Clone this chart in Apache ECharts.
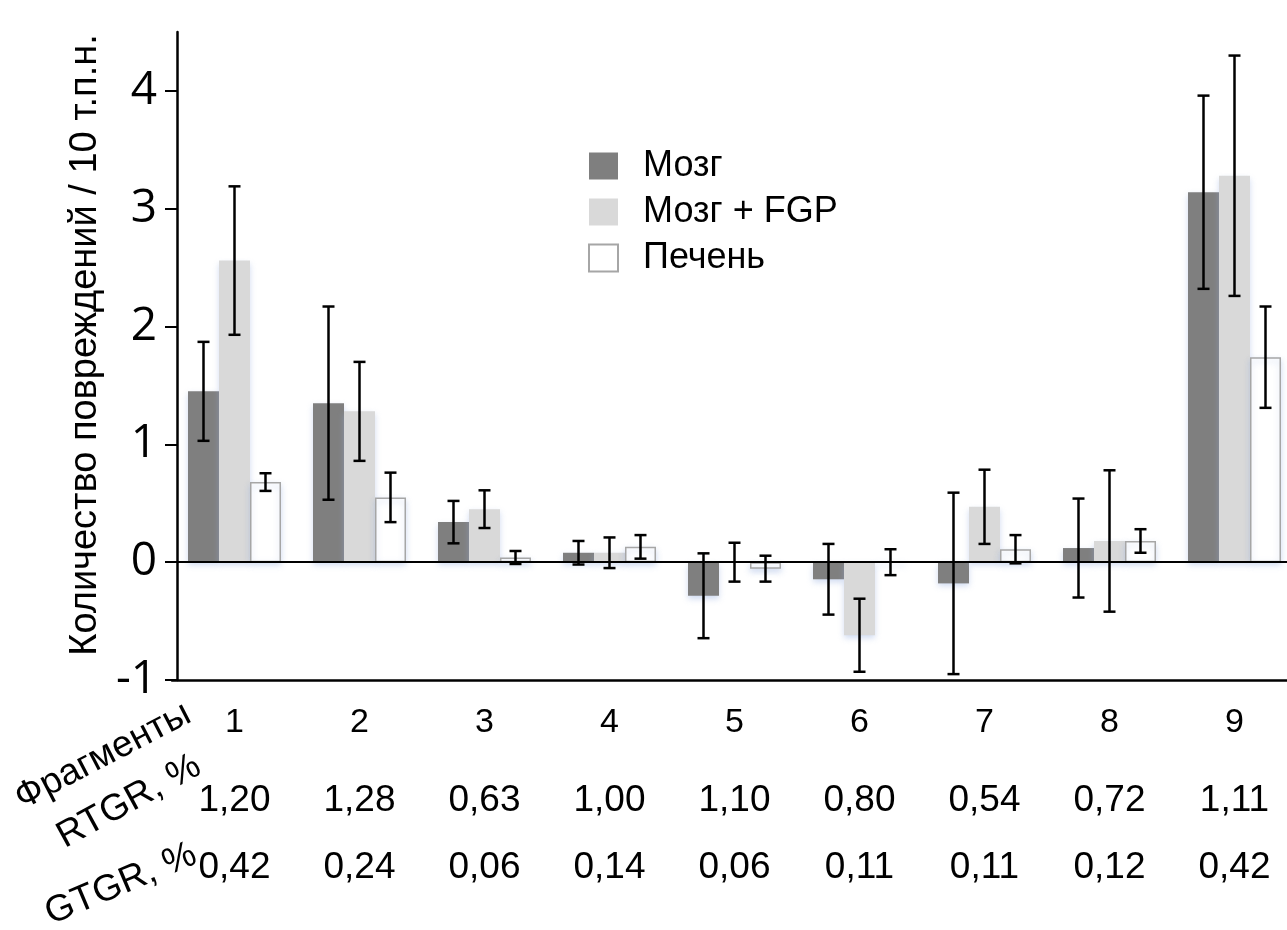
<!DOCTYPE html>
<html>
<head>
<meta charset="utf-8">
<script src="https://cdn.jsdelivr.net/npm/echarts@6/dist/echarts.min.js"></script>
<style>
  html, body { margin: 0; padding: 0; background: #fff; }
  #chart { width: 1287px; height: 930px; }
</style>
</head>
<body>
<div id="chart"></div>
<script>
// fragments and the two percentage rows under them
const categories = ['1', '2', '3', '4', '5', '6', '7', '8', '9'];
const rtgr = ['1,20', '1,28', '0,63', '1,00', '1,10', '0,80', '0,54', '0,72', '1,11'];
const gtgr = ['0,42', '0,24', '0,06', '0,14', '0,06', '0,11', '0,11', '0,12', '0,42'];
const yTicks = [-1, 0, 1, 2, 3, 4];

// lesions per 10 kb, with +/- error
const brain = [1.45, 1.35, 0.34, 0.08, -0.285, -0.145, -0.18, 0.12, 3.14];
const brainErr = [0.42, 0.82, 0.18, 0.10, 0.36, 0.30, 0.77, 0.42, 0.82];
const brainFgp = [2.56, 1.28, 0.45, 0.08, 0.0, -0.62, 0.47, 0.18, 3.28];
const brainFgpErr = [0.63, 0.42, 0.16, 0.13, 0.165, 0.31, 0.315, 0.60, 1.02];
const liver = [0.68, 0.55, 0.04, 0.13, -0.055, 0.0, 0.11, 0.18, 1.74];
const liverErr = [0.075, 0.21, 0.055, 0.10, 0.11, 0.11, 0.12, 0.10, 0.43];

const chart = echarts.init(document.getElementById('chart'));

const BAR_W = 31;
const glow = { shadowColor: 'rgba(150,175,225,0.45)', shadowBlur: 6, shadowOffsetY: 3 };

function errorSeries(name, values, errs, offset) {
  return {
    type: 'custom',
    name: name,
    xAxisIndex: 0,
    z: 5,
    data: values.map((v, i) => [i, v - errs[i], v + errs[i]]),
    renderItem: function (params, api) {
      const lo = api.coord([api.value(0), api.value(1)]);
      const hi = api.coord([api.value(0), api.value(2)]);
      const x = lo[0] + offset;
      const cap = 6;
      const style = { stroke: '#000', lineWidth: 2.5 };
      return {
        type: 'group',
        children: [
          { type: 'line', shape: { x1: x, y1: hi[1], x2: x, y2: lo[1] }, style: style },
          { type: 'line', shape: { x1: x - cap, y1: hi[1], x2: x + cap, y2: hi[1] }, style: style },
          { type: 'line', shape: { x1: x - cap, y1: lo[1], x2: x + cap, y2: lo[1] }, style: style }
        ]
      };
    }
  };
}

const titleFont = { fontFamily: 'Liberation Sans', fontSize: 37, fill: '#000', align: 'right', verticalAlign: 'bottom' };

const option = {
  animation: false,
  backgroundColor: '#fff',
  grid: { left: 172, width: 1125, top: 32, bottom: 250, outerBoundsMode: 'none', containLabel: false },
  legend: {
    data: ['Мозг', 'Мозг + FGP', 'Печень'],
    orient: 'vertical',
    left: 583,
    top: 143,
    itemWidth: 29,
    itemHeight: 27,
    itemGap: 10,
    icon: 'rect',
    textStyle: { fontFamily: 'Liberation Sans', fontSize: 36, color: '#000', padding: [0, 0, 0, 20] }
  },
  xAxis: [
    {
      type: 'category',
      data: categories,
      position: 'bottom',
      axisLine: { onZero: false, lineStyle: { color: '#000', width: 2.5 } },
      axisTick: { show: false },
      axisLabel: { fontFamily: 'Liberation Sans', fontSize: 34, color: '#000', margin: 26 }
    },
    {
      type: 'category',
      data: rtgr,
      position: 'bottom',
      offset: 80,
      axisLine: { show: false, onZero: false },
      axisTick: { show: false },
      axisLabel: { fontFamily: 'Liberation Sans', fontSize: 37, color: '#000', margin: 22 }
    },
    {
      type: 'category',
      data: gtgr,
      position: 'bottom',
      offset: 147,
      axisLine: { show: false, onZero: false },
      axisTick: { show: false },
      axisLabel: { fontFamily: 'Liberation Sans', fontSize: 37, color: '#000', margin: 22 }
    }
  ],
  yAxis: {
    type: 'value',
    min: -1,
    max: 4.5,
    offset: -5,
    name: 'Количество повреждений / 10 т.п.н.',
    nameLocation: 'middle',
    nameGap: 64,
    nameTextStyle: { fontFamily: 'Liberation Sans', fontSize: 38, color: '#000', padding: [0, 0, 0, 22] },
    axisLine: { show: true, lineStyle: { color: '#000', width: 2.5 } },
    axisTick: { show: true, length: 12, customValues: yTicks, lineStyle: { color: '#000', width: 2 } },
    axisLabel: { customValues: yTicks, fontFamily: 'Open Sans', fontSize: 46, color: '#000', margin: 20 },
    splitLine: { show: false }
  },
  graphic: [
    { type: 'text', x: 197, y: 728, rotation: 0.48, style: Object.assign({ text: 'Фрагменты' }, titleFont) },
    { type: 'text', x: 207, y: 780, rotation: 0.5, style: Object.assign({ text: 'RTGR, %' }, titleFont) },
    { type: 'text', x: 202, y: 870, rotation: 0.4, style: Object.assign({ text: 'GTGR, %' }, titleFont) }
  ],
  series: [
    {
      name: 'Мозг',
      type: 'bar',
      data: brain,
      barWidth: BAR_W,
      barGap: '0%',
      itemStyle: Object.assign({ color: '#7f7f7f' }, glow),
      markLine: {
        silent: true,
        symbol: 'none',
        label: { show: false },
        lineStyle: { color: '#000', width: 2, type: 'solid' },
        data: [{ yAxis: 0 }]
      }
    },
    {
      name: 'Мозг + FGP',
      type: 'bar',
      data: brainFgp,
      barWidth: BAR_W,
      barGap: '0%',
      itemStyle: Object.assign({ color: '#d9d9d9' }, glow)
    },
    {
      name: 'Печень',
      type: 'bar',
      data: liver,
      barWidth: BAR_W,
      barGap: '0%',
      itemStyle: Object.assign({ color: '#ffffff', borderColor: '#a6a6a6', borderWidth: 1.5 }, glow)
    },
    errorSeries('err-brain', brain, brainErr, -BAR_W),
    errorSeries('err-fgp', brainFgp, brainFgpErr, 0),
    errorSeries('err-liver', liver, liverErr, BAR_W)
  ]
};

chart.setOption(option);
</script>
</body>
</html>
